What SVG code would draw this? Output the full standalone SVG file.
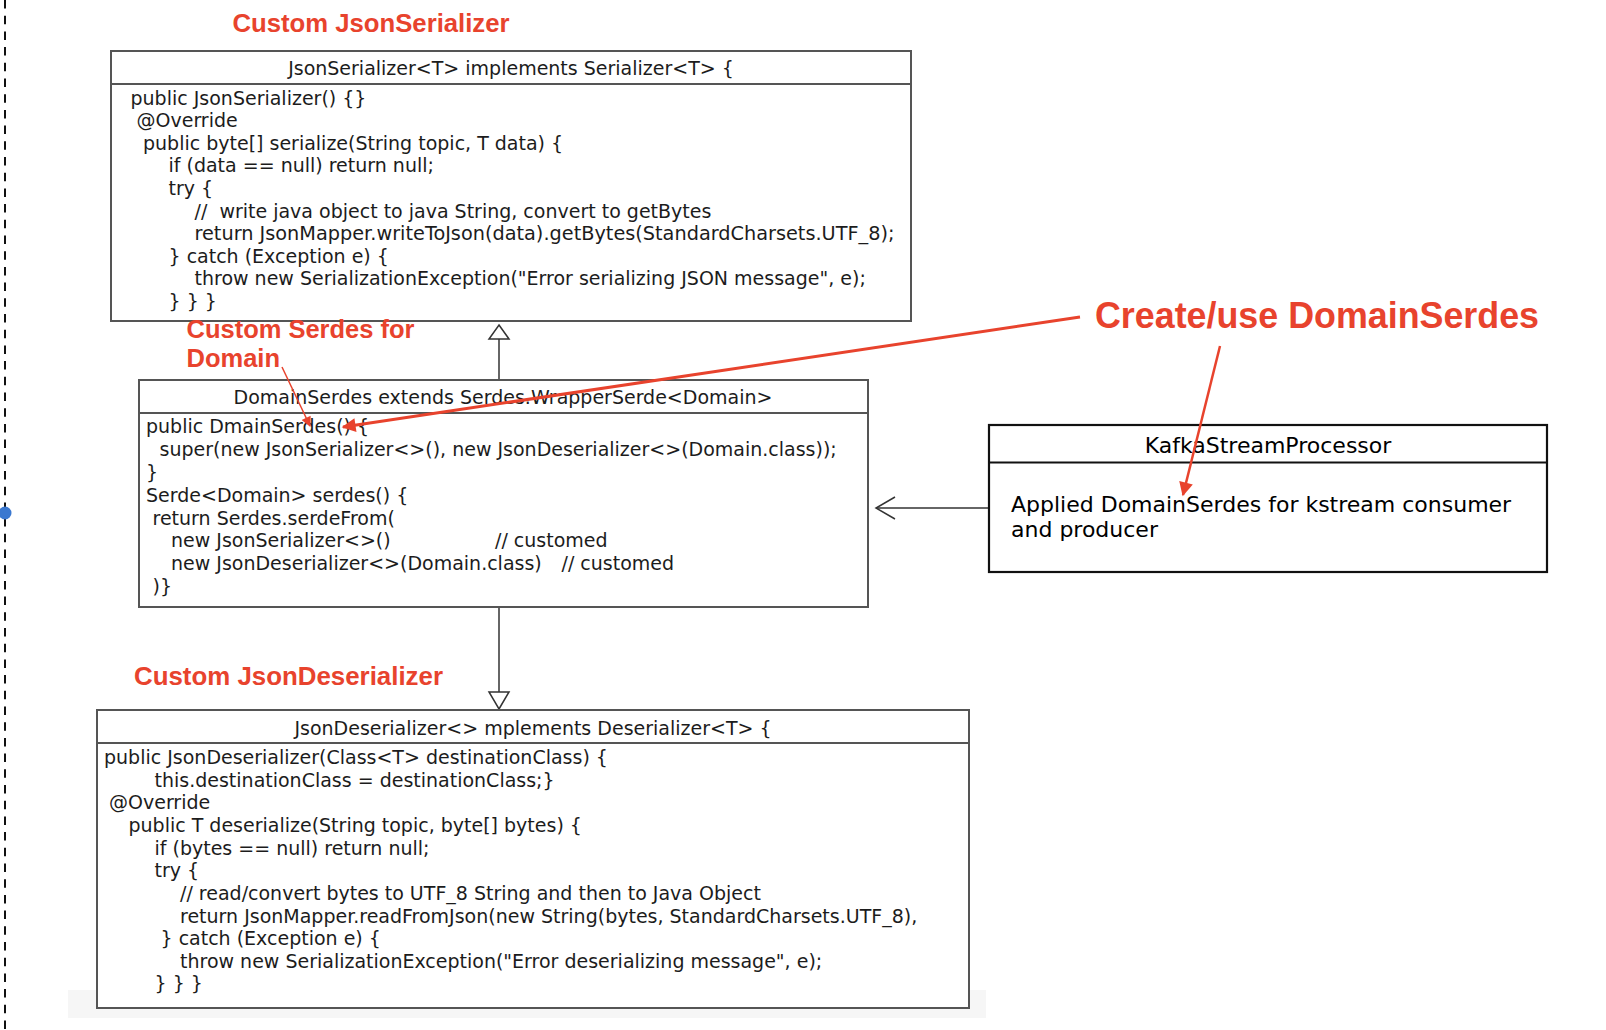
<svg xmlns="http://www.w3.org/2000/svg" width="1606" height="1030" viewBox="0 0 1606 1030">
<style>
text{white-space:pre}
.code{font-family:"DejaVu Sans","Liberation Sans",sans-serif;font-size:19px;fill:#1c1c1c}
.hdr{font-family:"DejaVu Sans","Liberation Sans",sans-serif;font-size:19px;fill:#1c1c1c;text-anchor:middle}
.kf{font-family:"DejaVu Sans","Liberation Sans",sans-serif;font-size:22px;fill:#000}
.red{font-family:"Liberation Sans",Arial,sans-serif;font-weight:bold;font-size:25.5px;fill:#e8432d}
.box{fill:#fff;stroke:#555;stroke-width:2}
.div{stroke:#555;stroke-width:2}
.kbox{fill:#fff;stroke:#111;stroke-width:2.2}
.conn{stroke:#333;stroke-width:1.5;fill:none}
.tri{fill:#fff;stroke:#333;stroke-width:1.5}
.rl{stroke:#e8432d;fill:none}
</style>
<defs>
<marker id="rh" viewBox="0 0 10 10" refX="9" refY="5" markerWidth="16" markerHeight="14" markerUnits="userSpaceOnUse" orient="auto">
<path d="M0,0 L10,5 L0,10 z" fill="#e8432d"/>
</marker>
<marker id="rhs" viewBox="0 0 10 10" refX="9" refY="5" markerWidth="12" markerHeight="10" markerUnits="userSpaceOnUse" orient="auto">
<path d="M0,0 L10,5 L0,10 z" fill="#e8432d"/>
</marker>
</defs>

<rect width="1606" height="1030" fill="#fff"/>
<line x1="5" y1="0" x2="5" y2="1030" stroke="#111" stroke-width="2" stroke-dasharray="8.5 7.2"/>
<circle cx="5" cy="513" r="6.5" fill="#3a78d0"/>
<rect x="68" y="990" width="918" height="28" fill="#f6f6f6"/>

<g id="connectors">
<line class="conn" x1="499" y1="380" x2="499" y2="339"/>
<path class="tri" d="M499,325 L509,339 L489,339 z"/>
<line class="conn" x1="499" y1="607" x2="499" y2="692"/>
<path class="tri" d="M499,709 L509,692 L489,692 z"/>
<line class="conn" x1="989" y1="508" x2="876" y2="508"/>
<path class="conn" d="M895,497 L876,508 L895,519"/>
</g>

<g id="JsonSerializer">
<rect class="box" x="111" y="51" width="800" height="270"/>
<line class="div" x1="111" y1="84" x2="911" y2="84"/>
<text class="hdr" x="511" y="75">JsonSerializer&lt;T&gt; implements Serializer&lt;T&gt; {</text>
<text class="code" x="130.5" y="105">public JsonSerializer() {}</text>
<text class="code" x="136.5" y="127">@Override</text>
<text class="code" x="143" y="150">public byte[] serialize(String topic, T data) {</text>
<text class="code" x="168.5" y="172">if (data == null) return null;</text>
<text class="code" x="168.5" y="195">try {</text>
<text class="code" x="194.5" y="218">//  write java object to java String, convert to getBytes</text>
<text class="code" x="194.5" y="240" textLength="700" lengthAdjust="spacingAndGlyphs">return JsonMapper.writeToJson(data).getBytes(StandardCharsets.UTF_8);</text>
<text class="code" x="168.5" y="263">} catch (Exception e) {</text>
<text class="code" x="194.5" y="285">throw new SerializationException("Error serializing JSON message", e);</text>
<text class="code" x="168.5" y="308">} } }</text>
</g>

<g id="DomainSerdes">
<rect class="box" x="139" y="380" width="729" height="227"/>
<line class="div" x1="139" y1="413" x2="868" y2="413"/>
<text class="hdr" x="503" y="404">DomainSerdes extends Serdes.WrapperSerde&lt;Domain&gt;</text>
<text class="code" x="146" y="433">public DmainSerdes() {</text>
<text class="code" x="159.5" y="456">super(new JsonSerializer&lt;&gt;(), new JsonDeserializer&lt;&gt;(Domain.class));</text>
<text class="code" x="146" y="479">}</text>
<text class="code" x="146" y="501.5">Serde&lt;Domain&gt; serdes() {</text>
<text class="code" x="152.5" y="524.5">return Serdes.serdeFrom(</text>
<text class="code" x="171" y="547">new JsonSerializer&lt;&gt;()</text>
<text class="code" x="495" y="547">// customed</text>
<text class="code" x="171" y="570">new JsonDeserializer&lt;&gt;(Domain.class)</text>
<text class="code" x="561.5" y="570">// customed</text>
<text class="code" x="152.5" y="592.5">)}</text>
</g>

<g id="KafkaStreamProcessor">
<rect class="kbox" x="989" y="425" width="558" height="147"/>
<line stroke="#111" stroke-width="2.2" x1="989" y1="462.5" x2="1547" y2="462.5"/>
<text class="kf" x="1268" y="452.5" text-anchor="middle">KafkaStreamProcessor</text>
<text class="kf" x="1011" y="511.5">Applied DomainSerdes for kstream consumer</text>
<text class="kf" x="1011" y="537">and producer</text>
</g>

<g id="JsonDeserializer">
<rect class="box" x="97" y="710" width="872" height="298"/>
<line class="div" x1="97" y1="743" x2="969" y2="743"/>
<text class="hdr" x="533" y="735">JsonDeserializer&lt;&gt; mplements Deserializer&lt;T&gt; {</text>
<text class="code" x="104" y="764">public JsonDeserializer(Class&lt;T&gt; destinationClass) {</text>
<text class="code" x="154.5" y="786.5">this.destinationClass = destinationClass;}</text>
<text class="code" x="109" y="809">@Override</text>
<text class="code" x="128.5" y="832">public T deserialize(String topic, byte[] bytes) {</text>
<text class="code" x="154.5" y="854.5">if (bytes == null) return null;</text>
<text class="code" x="154.5" y="877">try {</text>
<text class="code" x="180" y="900">// read/convert bytes to UTF_8 String and then to Java Object</text>
<text class="code" x="180" y="922.5">return JsonMapper.readFromJson(new String(bytes, StandardCharsets.UTF_8),</text>
<text class="code" x="160.5" y="945">} catch (Exception e) {</text>
<text class="code" x="180" y="967.5">throw new SerializationException("Error deserializing message", e);</text>
<text class="code" x="154.5" y="990">} } }</text>
</g>

<g id="label-serializer"><text class="red" x="232.5" y="31.7" textLength="277" lengthAdjust="spacingAndGlyphs">Custom JsonSerializer</text></g>
<g id="label-serdes"><text class="red" x="186.5" y="337.5" textLength="228" lengthAdjust="spacingAndGlyphs">Custom Serdes for</text><text class="red" x="186.5" y="367">Domain</text></g>
<g id="label-deserializer"><text class="red" x="134" y="684.5" textLength="309" lengthAdjust="spacingAndGlyphs">Custom JsonDeserializer</text></g>
<g id="label-create"><text class="red" x="1095" y="328" style="font-size:36px" textLength="444" lengthAdjust="spacingAndGlyphs">Create/use DomainSerdes</text></g>

<g id="annotations">
<line class="rl" stroke-width="3" x1="1080" y1="317" x2="343" y2="427" marker-end="url(#rh)"/>
<line class="rl" stroke-width="1.5" x1="282" y1="367" x2="310" y2="426" marker-end="url(#rhs)"/>
<line class="rl" stroke-width="2.5" x1="1220" y1="346" x2="1183" y2="495" marker-end="url(#rh)"/>
</g>
</svg>
